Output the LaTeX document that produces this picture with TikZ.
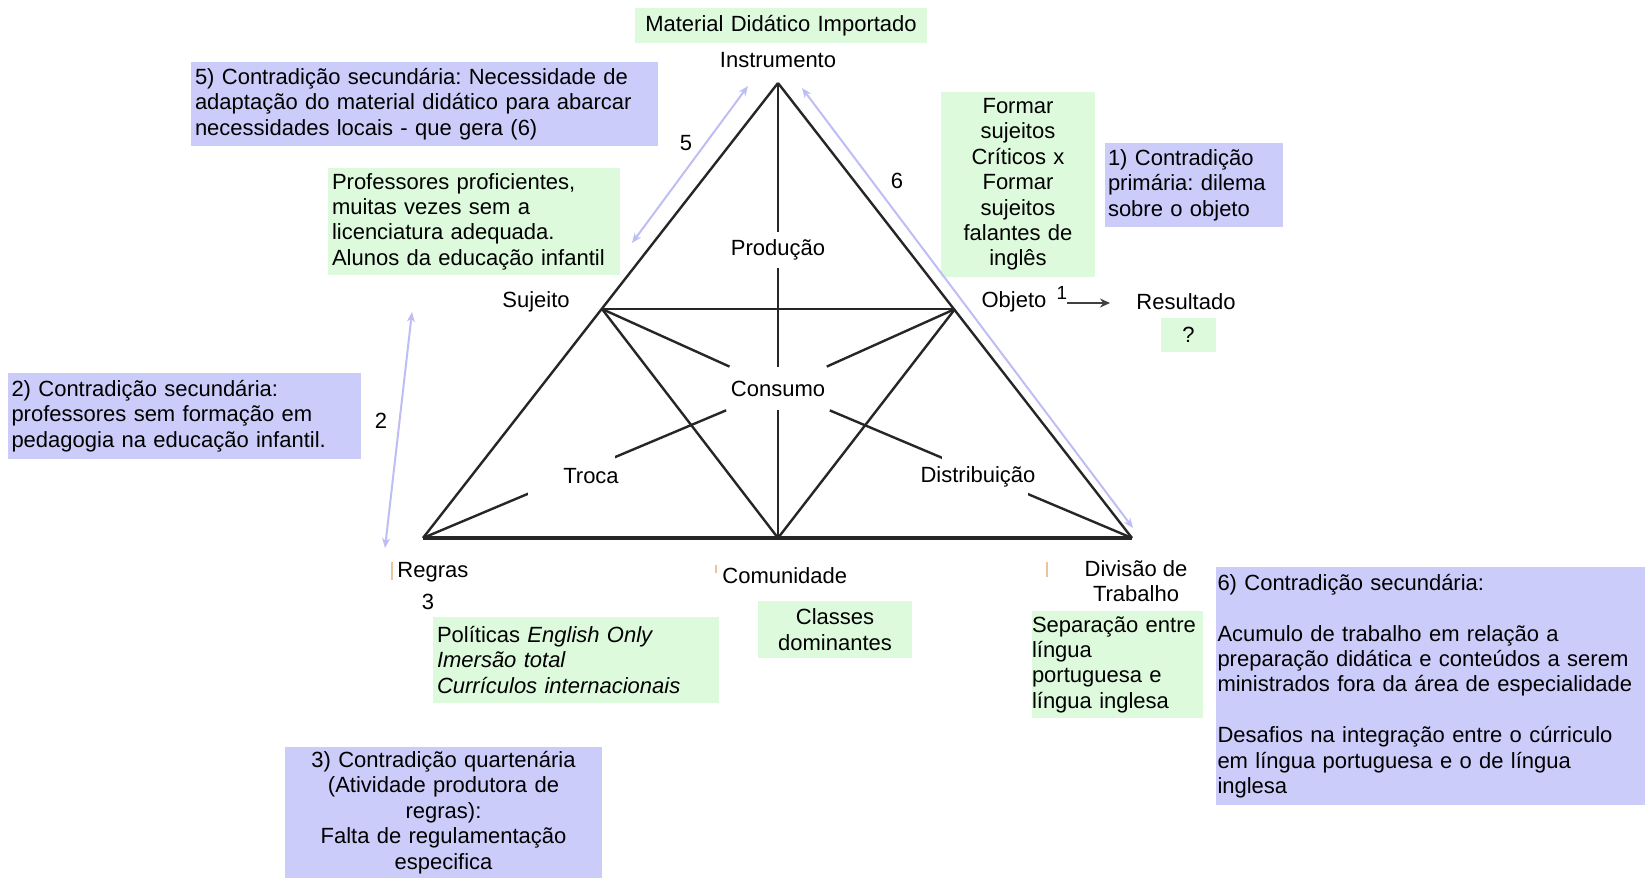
\documentclass[tikz,border=0pt]{standalone}
\usepackage{fontspec}
\setmainfont{Liberation Sans}
\usetikzlibrary{arrows.meta}
\definecolor{boxgreen}{RGB}{221,250,221}
\definecolor{boxlav}{RGB}{204,204,250}
\definecolor{arrlav}{RGB}{190,190,245}
\definecolor{tickcol}{RGB}{232,196,160}
\frenchspacing
\begin{document}
\begin{tikzpicture}[x=0.5pt,y=-0.5pt,
  every node/.style={font={\fontsize{11pt}{12.7pt}\selectfont}, inner sep=0pt},
  gbox/.style={fill=boxgreen, inner sep=0pt},
  lbox/.style={fill=boxlav, inner sep=0pt},
  tri/.style={line width=1.2pt, draw=black!85},
  dbl/.style={draw=arrlav, line width=1pt, {Stealth[length=5pt,width=4pt]}-{Stealth[length=5pt,width=4pt]}},
  gap/.style={fill=white, inner sep=0pt},
  numlab/.style={font={\fontsize{11pt}{12.7pt}\selectfont}},
  ticks/.style={draw=tickcol, line width=0.8pt}
]
\useasboundingbox[fill=white] (0,0) rectangle (1645,878);

% vertices
\coordinate (A) at (778,83);
\coordinate (S) at (602,309);
\coordinate (O) at (955,309);
\coordinate (R) at (423,538);
\coordinate (C) at (778,538);
\coordinate (D) at (1132,538);

% inner labels that break lines
\node[minimum width=50pt, minimum height=18pt] (prod) at (778,250) {Produção};
\node[minimum width=51.5pt, minimum height=21.5pt] (cons) at (778,388.5) {Consumo};

% triangle
\draw[tri] (A) -- (R);
\draw[tri] (A) -- (D);
\draw[tri, line width=1.6pt] (R) -- (D);
\draw[tri] (S) -- (O);
\draw[tri] (S) -- (C);
\draw[tri] (O) -- (C);
\draw[tri] (A) -- (prod);
\draw[tri] (prod) -- (cons);
\draw[tri] (cons) -- (C);
\draw[tri] (S) -- (cons);
\draw[tri] (O) -- (cons);
\draw[tri] (R) -- (cons);
\draw[tri] (D) -- (cons);

\node[gap, minimum width=43.5pt, minimum height=21pt] (trocagap) at (571.5,476) {};
\node[gap, minimum width=43pt, minimum height=21pt] (distgap) at (985,476) {};
\node (troca) at (591,476) {Troca};
\node (dist) at (978,477) {Distribuição};

% boxes
\node[gbox, minimum width=146pt, minimum height=17.5pt, text width=146pt, align=center] (mdi) at (781,25.5) {Material Didático Importado};
\node (instr) at (778,60) {Instrumento};
\node[lbox, minimum width=233.5pt, minimum height=42pt, text width=229.5pt, align=left] (c5) at (424.5,104) {5) Contradição secundária: Necessidade de\\adaptação do material didático para abarcar\\necessidades locais - que gera (6)};
\node[gbox, minimum width=146pt, minimum height=53.5pt, text width=142pt, align=left] (prof) at (474,221.5) {Professores proficientes,\\muitas vezes sem a\\licenciatura adequada.\\Alunos da educação infantil};
\node[gbox, minimum width=77pt, minimum height=92.5pt, text width=77pt, align=center] (objbox) at (1018,184.5) {Formar\\sujeitos\\Críticos x\\Formar\\sujeitos\\falantes de\\inglês};
\node[lbox, minimum width=89pt, minimum height=42pt, text width=86pt, align=left] (c1) at (1194,185) {1) Contradição\\primária: dilema\\sobre o objeto};
\node[gbox, minimum width=27.5pt, minimum height=17pt] (q) at (1188.5,335) {?};
\node[lbox, minimum width=176.5pt, minimum height=43pt, text width=173pt, align=left] (c2) at (184.5,416) {2) Contradição secundária:\\professores sem formação em\\pedagogia na educação infantil.};
\node[gbox, minimum width=143pt, minimum height=43pt, text width=139pt, align=left] (pol) at (576,660) {Políticas \textit{English Only}\\\textit{Imersão total}\\\textit{Currículos internacionais}};
\node[gbox, minimum width=77pt, minimum height=28.5pt, text width=77pt, align=center] (cls) at (835,629.5) {Classes\\dominantes};
\node[gbox, minimum width=85.5pt, minimum height=53.5pt, text width=85.5pt, align=left] (sep) at (1117.5,664.5) {Separação entre\\língua\\portuguesa e\\língua inglesa};
\node[lbox, minimum width=214.5pt, minimum height=119pt, text width=213pt, align=left] (c6) at (1430.5,686) {6) Contradição secundária:\\[12.7pt]Acumulo de trabalho em relação a\\preparação didática e conteúdos a serem\\ministrados fora da área de especialidade\\[12.7pt]Desafios na integração entre o cúrriculo\\em língua portuguesa e o de língua\\inglesa};
\node[lbox, minimum width=158.5pt, minimum height=65.5pt, text width=158.5pt, align=center] (c3) at (443.5,812.5) {3) Contradição quartenária\\(Atividade produtora de\\regras):\\Falta de regulamentação\\especifica};

% vertex labels
\node (suj) at (536,302) {Sujeito};
\node (objl) at (1014,302) {Objeto};
\node (res) at (1186,302) {Resultado};
\node[anchor=west] (reg) at (397,572) {Regras};
\node[anchor=west] (com) at (722,576) {Comunidade};
\node[align=center] (div) at (1136,581) {Divisão de\\Trabalho};

% numbers
\node[numlab] (n5) at (686,143) {5};
\node[numlab] (n6) at (897,181) {6};
\node[numlab] (n2) at (381,421) {2};
\node[numlab] (n3) at (428,602) {3};
\node[font={\fontsize{9.5pt}{11pt}\selectfont}] (n1) at (1062,293) {1};

% arrows
\coordinate (a5a) at (748,86);
\coordinate (a5b) at (632,243);
\coordinate (a6a) at (802,88);
\coordinate (a6b) at (1133,528);
\coordinate (a2a) at (412,312);
\coordinate (a2b) at (385,548);
\draw[dbl] (a5a) -- (a5b);
\draw[dbl] (a6a) -- (a6b);
\draw[dbl] (a2a) -- (a2b);
\coordinate (r1a) at (1067,303);
\coordinate (r1b) at (1110,303);
\draw[draw=black!75, line width=0.8pt, -{Stealth[length=5pt,width=4.5pt]}] (r1a) -- (r1b);

% stray ticks
\draw[ticks] (392,562) -- (392,580);
\draw[ticks] (716,565) -- (716,573);
\draw[ticks] (1047,562) -- (1047,577);
\end{tikzpicture}
\end{document}
